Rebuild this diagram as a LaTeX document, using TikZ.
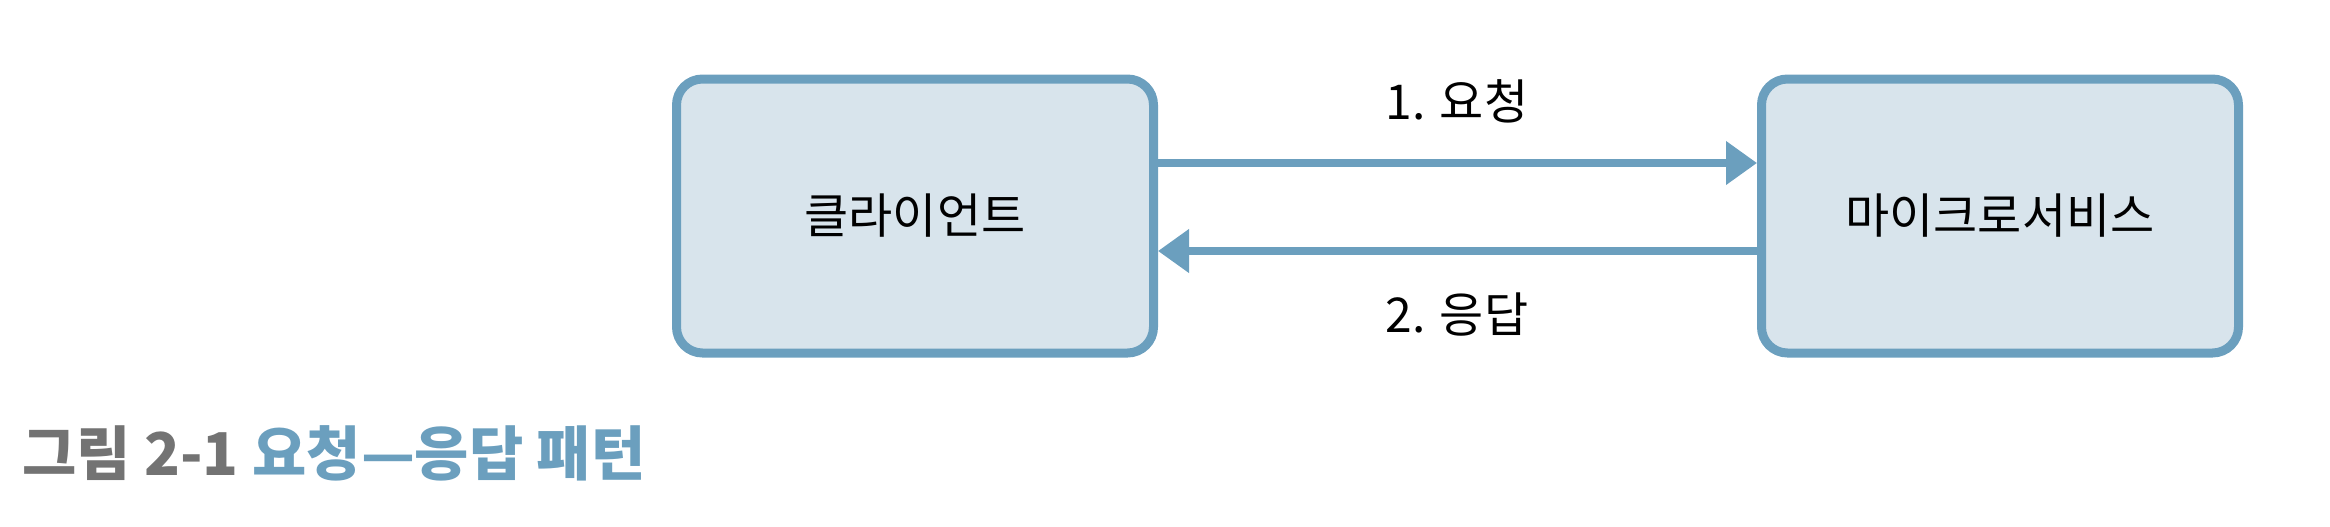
\documentclass[tikz,border=0pt]{standalone}
\usepackage{fontspec}
\newfontfamily\krfont{Noto Sans CJK KR}
\usetikzlibrary{arrows.meta}
\definecolor{edgeblue}{RGB}{107,159,190}
\definecolor{boxfill}{RGB}{216,228,236}
\definecolor{capgrey}{RGB}{115,115,115}

\begin{document}
\begin{tikzpicture}[x=0.5pt,y=-0.5pt,
  box/.style={draw=edgeblue, fill=boxfill, line width=4.5pt, rounded corners=13pt,
    minimum width=238.5pt, minimum height=137pt, font=\krfont\fontsize{24pt}{28pt}\selectfont},
  conn/.style={draw=edgeblue, line width=3.75pt, -{Triangle[length=15.5pt,width=21pt]}},
  lbl/.style={font=\krfont\fontsize{24pt}{28pt}\selectfont}]

\useasboundingbox (0,0) rectangle (2330,526);

% Boxes
\node[box] (client) at (915,216) {클라이언트};
\node[box] (service) at (2000,216) {마이크로서비스};

% --- Request ---
\draw[conn] ([yshift=26.5pt]client.east) -- ([yshift=26.5pt]service.west);
\node[lbl] (req) at (1457,101) {1. 요청};

% --- Response ---
\draw[conn] ([yshift=-17.5pt]service.west) -- ([yshift=-17.5pt]client.east);
\node[lbl] (res) at (1457,315) {2. 응답};

% Caption
\node[anchor=west, inner sep=0pt, font=\krfont\bfseries\fontsize{29.5pt}{34pt}\selectfont]
  (caption) at (22,453) {\textcolor{capgrey}{그림 2-1} \textcolor{edgeblue}{요청—응답 패턴}};

\end{tikzpicture}
\end{document}
